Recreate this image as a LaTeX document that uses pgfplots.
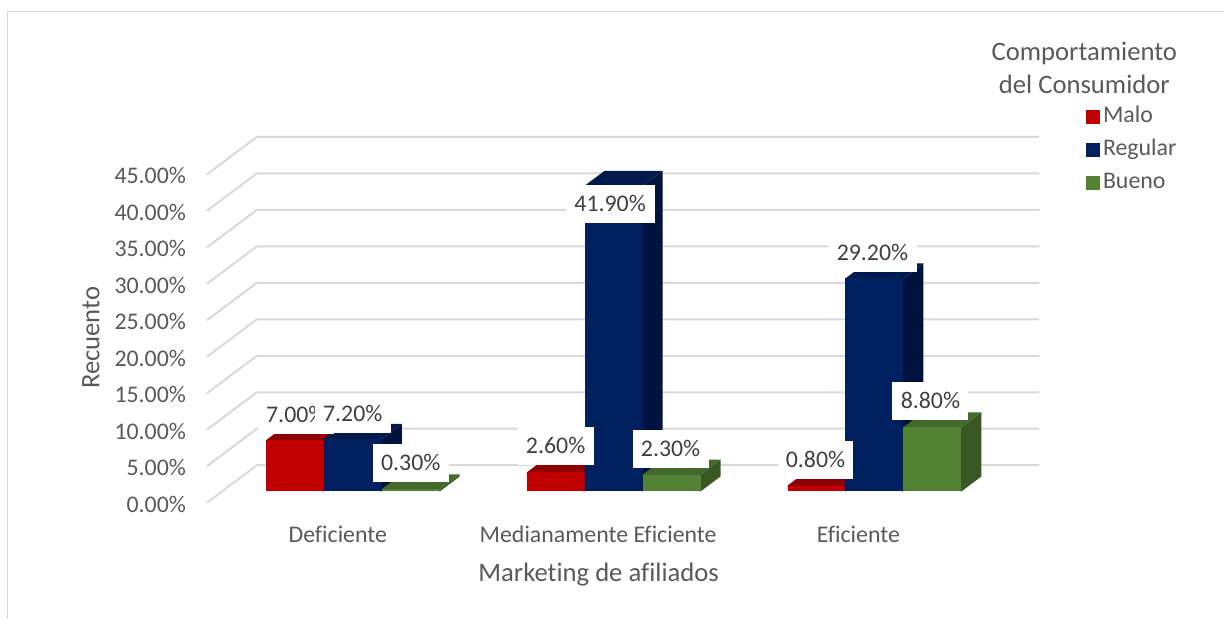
\documentclass[border=0pt]{standalone}
\usepackage{fontspec}
\setmainfont{Carlito}[Ligatures=NoCommon]
\usepackage{pgfplots}
\pgfplotsset{compat=1.18}

\definecolor{gridgrey}{HTML}{D9D9D9}
\definecolor{txt}{HTML}{595959}
\definecolor{lbl}{HTML}{404040}
\definecolor{malo}{HTML}{C00000}
\definecolor{malotop}{HTML}{8F0000}
\definecolor{maloside}{HTML}{7A0000}
\definecolor{regular}{HTML}{002060}
\definecolor{regulartop}{HTML}{001A4E}
\definecolor{regularside}{HTML}{00133F}
\definecolor{bueno}{HTML}{548235}
\definecolor{buenotop}{HTML}{446A2B}
\definecolor{buenoside}{HTML}{385723}

\newcommand{\chartfont}{\fontsize{17.9}{22}\selectfont}
\newcommand{\titlefont}{\fontsize{20}{24.75}\selectfont}

% One 3-D column: left edge #1, value #2, colour family #3.
% The depth of every column is 20 units across and 2.05 percentage points up.
% Side and top faces run slightly under the front face so no seam shows.
\newcommand{\column}[3]{%
  \pgfmathsetmacro{\xa}{#1+57}%
  \pgfmathsetmacro{\xb}{#1+58}%
  \pgfmathsetmacro{\xc}{#1+20}%
  \pgfmathsetmacro{\xd}{#1+78}%
  \pgfmathsetmacro{\xm}{#1+29}%
  \pgfmathsetmacro{\yt}{#2+2.05}%
  \pgfmathsetmacro{\yu}{#2-0.12}%
  \addplot[fill=#3side,draw=none,forget plot] coordinates {(\xa,0) (\xb,0) (\xd,2.05) (\xd,\yt) (\xb,#2) (\xa,#2)} -- cycle;
  \addplot[fill=#3top,draw=none,forget plot] coordinates {(#1,\yu) (#1,#2) (\xc,\yt) (\xd,\yt) (\xb,#2) (\xb,\yu)} -- cycle;
  \addplot[ybar,bar width=58,bar shift=0pt,fill=#3,draw=none,forget plot] coordinates {(\xm,#2)};
}
% One gridline: front end on the side wall, then along the back wall.
\newcommand{\wallline}[2]{%
  \addplot[gridgrey,line width=1.5pt,forget plot] coordinates {(207,#1) (257,#2) (1040,#2)};
}

\begin{document}
\begin{tikzpicture}[
  datalabel/.style={fill=white,text=lbl,inner sep=0pt,minimum width=57pt,minimum height=28.5pt,font=\chartfont},
  widelabel/.style={datalabel,minimum width=66.75pt}]
\begin{axis}[
  scale only axis,
  width=624.75pt, height=274.5pt,
  xmin=207, xmax=1040, ymin=-1.55, ymax=48.59,
  clip=false,
  axis line style={draw=none},
  major tick length=0pt,
  xtick={338,598.5,859},
  xticklabels={Deficiente,Medianamente Eficiente,Eficiente},
  ytick={0,5,10,15,20,25,30,35,40,45},
  yticklabels={0.00\%,5.00\%,10.00\%,15.00\%,20.00\%,25.00\%,30.00\%,35.00\%,40.00\%,45.00\%},
  tick label style={font=\chartfont,text=txt,inner sep=0pt},
  yticklabel style={anchor=east,xshift=-15.5pt,yshift=-9.6pt},
  xticklabel style={anchor=north,yshift=-17pt},
  xlabel={Marketing de afiliados},
  ylabel={Recuento},
  label style={font=\titlefont,text=txt,inner sep=0pt},
  xlabel style={at={(axis cs:599,-1.55)},anchor=north,yshift=-45pt},
  ylabel style={at={(axis cs:91,21.05)},anchor=center},
  legend style={draw=none,fill=none,at={(axis cs:1087,53.25)},anchor=north west,
    font=\chartfont,text=txt,inner sep=0pt,outer sep=0pt,
    /tikz/nodes={text height=13pt,text depth=4pt},
    row sep=3.65pt,
    /tikz/every even column/.append style={column sep=7.5pt}},
  legend cell align=left,
  legend image code/.code={\fill[#1,draw=none] (0pt,-5.25pt) rectangle (10.5pt,5.25pt);},
]
% Outer frame: left and top edges only
\addplot[gridgrey,line width=1.1pt,forget plot] coordinates {(1225,65.78) (7.5,65.78) (7.5,-17.44)};

% Side wall and back wall
\wallline{-1.55}{3.59}
\wallline{3.45}{8.59}
\wallline{8.45}{13.59}
\wallline{13.45}{18.59}
\wallline{18.45}{23.59}
\wallline{23.45}{28.59}
\wallline{28.45}{33.59}
\wallline{33.45}{38.59}
\wallline{38.45}{43.59}
\wallline{43.45}{48.59}

% Deficiente
\column{266}{7.0}{malo}
\column{324}{7.2}{regular}
\column{382}{0.3}{bueno}
% Medianamente Eficiente
\column{527}{2.6}{malo}
\column{585}{41.9}{regular}
\column{643}{2.3}{bueno}
% Eficiente
\column{788}{0.8}{malo}
\column{846}{29.2}{regular}
\column{904}{8.8}{bueno}

% Data labels
\node[datalabel] at (axis cs:296,10.51) {7.00\%};
\node[datalabel] at (axis cs:353,10.64) {7.20\%};
\node[datalabel] at (axis cs:411,3.93) {0.30\%};
\node[datalabel] at (axis cs:556,6.26) {2.60\%};
\node[widelabel] at (axis cs:610.5,39.41) {41.90\%};
\node[datalabel] at (axis cs:671,5.85) {2.30\%};
\node[datalabel] at (axis cs:816,4.34) {0.80\%};
\node[widelabel] at (axis cs:873,32.70) {29.20\%};
\node[datalabel] at (axis cs:931,12.42) {8.80\%};

% Legend
\node[font=\titlefont,text=txt,align=center,inner sep=0pt] at (axis cs:1085,58.1)
  {Comportamiento\\del Consumidor};
\addlegendimage{fill=malo}
\addlegendentry{Malo}
\addlegendimage{fill=regular}
\addlegendentry{Regular}
\addlegendimage{fill=bueno}
\addlegendentry{Bueno}

% Page extent
\path (axis cs:0,-17.44) rectangle (axis cs:1225,67.36);
\end{axis}
\end{tikzpicture}
\end{document}
